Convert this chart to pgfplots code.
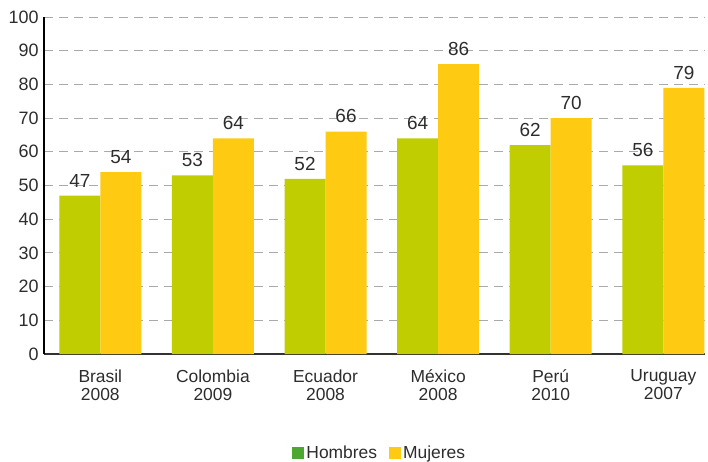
\documentclass[border=0pt]{standalone}
\usepackage{pgfplots}
\pgfplotsset{compat=1.18}
\usepackage{fontspec}
\setmainfont{Liberation Sans}
\definecolor{bargreen}{RGB}{192,205,0}
\definecolor{baryellow}{RGB}{254,202,18}
\definecolor{leggreen}{RGB}{76,168,46}
\definecolor{txt}{RGB}{45,45,45}
\definecolor{gridc}{RGB}{170,170,170}
\begin{document}
\begin{tikzpicture}
\path[use as bounding box] (-44bp,-108bp) rectangle (664bp,17bp+337bp);
\begin{axis}[
  scale only axis,
  width=661bp, height=337bp,
  ybar, bar width=41bp,
  xmin=-0.5, xmax=5.37,
  ymin=0, ymax=100,
  ytick={0,10,...,100},
  xtick=data,
  xticklabels={{Brasil\\2008},{Colombia\\2009},{Ecuador\\2008},{México\\2008},{Perú\\2010},{Uruguay\\2007}},
  x tick label style={align=center, font=\fontsize{17.5}{18}\selectfont, text=txt, yshift=-12bp},
  y tick label style={font=\fontsize{18}{18}\selectfont, text=txt, xshift=-2bp},
  /pgf/number format/assume math mode=true,
  major tick length=0pt,
  axis x line*=bottom, axis y line*=left,
  x axis line style={-, line width=1.2pt, color=black!80},
  y axis line style={-, line width=1.2pt, color=black},
  ymajorgrids,
  grid style={gridc, line width=0.9pt, dash pattern=on 9bp off 6bp},
  nodes near coords,
  nodes near coords style={font=\fontsize{19}{19}\selectfont, text=txt, yshift=5bp},
  legend style={at={(0.508,-0.294)}, anchor=center, draw=none, legend columns=2,
    font=\fontsize{17.5}{17.5}\selectfont, text=txt,
    /tikz/every even column/.append style={column sep=10bp}},
  legend image code/.code={\fill[#1] (0bp,-6bp) rectangle (12bp,6bp);},
]
\addplot[fill=bargreen, draw=none, bar shift=-20.5bp, forget plot] coordinates {(0,47) (1,53) (2,52) (3,64) (4,62) (5,56)};
\addplot[fill=baryellow, draw=none, bar shift=20.5bp, forget plot] coordinates {(0,54) (1,64) (2,66) (3,86) (4,70) (5,79)};
\addlegendimage{fill=leggreen, draw=none}
\addlegendentry{Hombres}
\addlegendimage{fill=baryellow, draw=none}
\addlegendentry{Mujeres}
\end{axis}
\end{tikzpicture}
\end{document}
